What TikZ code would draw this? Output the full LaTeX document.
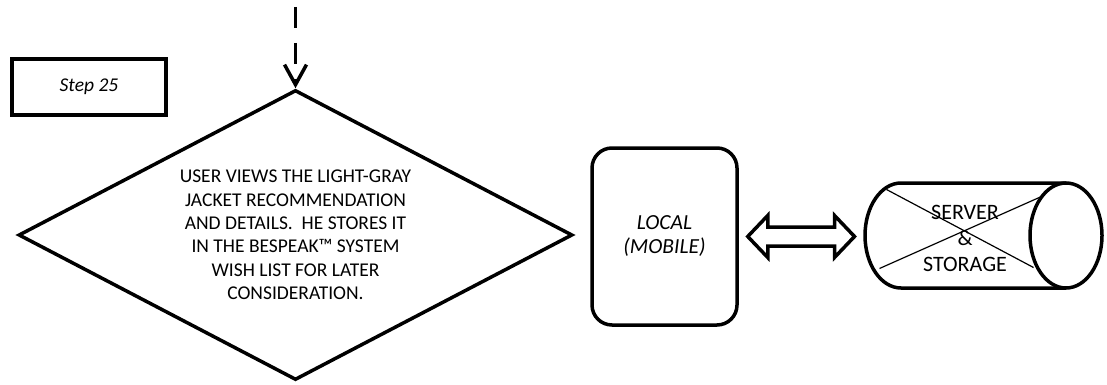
\documentclass[tikz,border=0pt]{standalone}
\usepackage{fontspec}
\setmainfont{Carlito}
\usetikzlibrary{shapes.geometric,arrows.meta,calc}

\begin{document}
\begin{tikzpicture}[x=1pt, y=-1pt, line width=3.5pt,
        stepbox/.style={draw, minimum width=154pt, minimum height=56pt,
            font=\fontsize{19.5pt}{23pt}\selectfont\itshape},
        decision/.style={draw, diamond, aspect=2, inner sep=0pt,
            minimum width=554pt, minimum height=290pt, align=center,
            font=\fontsize{19.5pt}{23.4pt}\selectfont},
        device/.style={draw, rounded corners=20pt, minimum width=145pt,
            minimum height=177pt, align=center,
            font=\fontsize{21.5pt}{24pt}\selectfont\itshape},
        store/.style={align=center, inner sep=0pt,
            font=\fontsize{22pt}{26pt}\selectfont},
        flow/.style={dash pattern=on 21pt off 15pt,
            -{Straight Barb[length=20pt, width=22pt]}}]
        \useasboundingbox (0,0) rectangle (1107,385);

        % Step label
        \node[stepbox] (step) at (89,87) {Step 25};

        % Decision
        \coordinate (from) at (295.5,7);
        \node[decision] (view) at (295.5,235) {USER VIEWS THE LIGHT-GRAY\\JACKET RECOMMENDATION\\AND DETAILS.\ \ HE STORES IT\\IN THE BESPEAK™ SYSTEM\\WISH LIST FOR LATER\\CONSIDERATION.};
        \draw[flow] (from) -- (view.north);

        % Local device
        \node[device] (local) at (664.5,236.5) {LOCAL\\(MOBILE)};

        % Server cylinder
        \coordinate (cyl) at (983.5,235.5);
        \coordinate (cylw) at ($(cyl)+(-120,0)$);
        \draw ($(cyl)+(82.5,52.5)$) -- ($(cyl)+(-82.5,52.5)$)
            arc[start angle=-90, end angle=-270, x radius=36pt, y radius=52.5pt]
            -- ($(cyl)+(82.5,-52.5)$);
        \draw ($(cyl)+(82.5,0)$) ellipse[x radius=36pt, y radius=52.5pt];
        \draw[line width=1.2pt] ($(cyl)+(-97,-46)$) -- ($(cyl)+(50,32)$);
        \draw[line width=1.2pt] ($(cyl)+(-104,33)$) -- ($(cyl)+(58,-39)$);
        \node[store] (server) at (965,238) {SERVER\\\&\\STORAGE};

        % Two-way link
        \coordinate (la) at ($(local.east)+(9,0)$);
        \coordinate (ra) at ($(local.east -| cylw)+(-9,0)$);
        \draw[line join=miter] (la) -- ++(20,-21) -- ++(0,11.5)
            -- ($(ra)+(-20,-9.5)$) -- ++(0,-11.5) -- (ra) -- ++(-20,21)
            -- ++(0,-11.5) -- ($(la)+(20,9.5)$) -- ++(0,11.5) -- cycle;
\end{tikzpicture}
\end{document}
